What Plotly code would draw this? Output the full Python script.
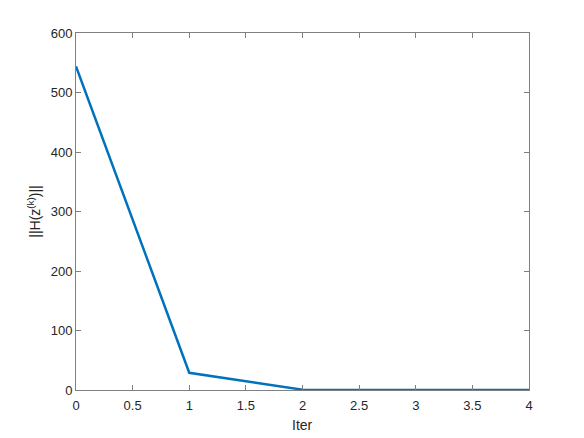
import plotly.graph_objects as go

# residual norm per iteration
iters = [0, 1, 2, 3, 4]
h_norm = [544, 29, 0.5, 0.01, 0.0]

x_ticks = [0, 0.5, 1, 1.5, 2, 2.5, 3, 3.5, 4]
x_labels = ["0", "0.5", "1", "1.5", "2", "2.5", "3", "3.5", "4"]
y_ticks = [0, 100, 200, 300, 400, 500, 600]

fig = go.Figure(go.Scatter(x=iters, y=h_norm, mode="lines",
                           line=dict(color="#0072BD", width=2.5)))

ax = dict(showline=True, linecolor="#808080", linewidth=1, mirror="ticks",
          ticks="inside", ticklen=5, tickcolor="#808080", showgrid=False,
          zeroline=False, tickfont=dict(size=13, color="#262626"))

fig.update_xaxes(range=[0, 4], tickvals=x_ticks, ticktext=x_labels, ticklabelstandoff=3,
                 automargin=False, **ax)
fig.update_yaxes(range=[0, 600], tickvals=y_ticks,
                 title=dict(text="||H(z<sup>(k)</sup>)||", font=dict(size=14, color="#262626"),
                            standoff=6),
                 **ax)

# x title placed by hand so it does not push the bottom margin
fig.add_annotation(text="Iter", xref="paper", yref="paper", x=0.5, y=-0.098,
                   yanchor="middle", showarrow=False, font=dict(size=14, color="#262626"))

# page body has an 8px margin, so shrink the figure to keep the axes in place
fig.update_layout(width=576, height=430, margin=dict(l=68, r=55, t=25, b=48),
                  plot_bgcolor="white", paper_bgcolor="white", showlegend=False,
                  font=dict(family="Liberation Sans, Arial, sans-serif"))

fig.write_html("out.html")
